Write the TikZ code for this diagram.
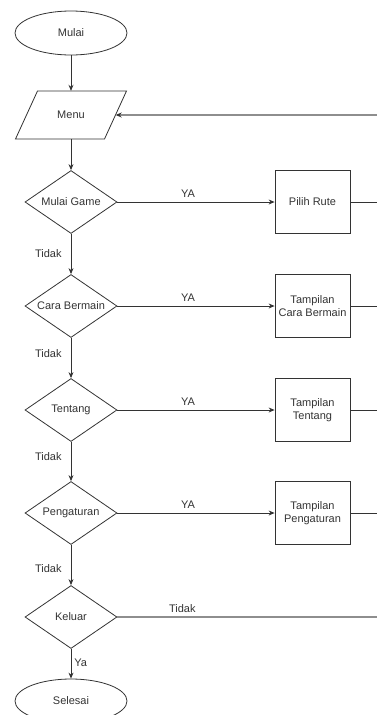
\documentclass[tikz,border=0pt]{standalone}
\usepackage{fontspec}
\setmainfont{Liberation Sans}
\usetikzlibrary{shapes.geometric,arrows.meta}
\definecolor{ink}{HTML}{333333}
\definecolor{faint}{HTML}{8E8E8E}
\begin{document}
\begin{tikzpicture}[x=1pt,y=-1pt,
  font=\fontsize{11}{12.5}\selectfont, text=ink,
  terminal/.style={ellipse, draw=ink, line width=0.8pt, minimum width=112pt, minimum height=44pt, inner sep=0pt},
  decision/.style={diamond, draw=ink, line width=0.8pt, minimum width=92pt, minimum height=63pt, aspect=1.5, inner sep=0pt},
  process/.style={rectangle, draw=ink, line width=0.8pt, minimum width=75pt, minimum height=63pt, align=center, inner sep=0pt},
  iobox/.style={rectangle, minimum width=89pt, minimum height=48pt, inner sep=0pt},
  tip/.style={-{Stealth[length=6pt,width=5pt,color=ink]}},
  flow/.style={draw=ink, line width=0.8pt, tip},
  link/.style={draw=ink, line width=0.8pt},
  back/.style={draw=faint, line width=1.6pt},
  lbl/.style={inner sep=0pt, text=ink}]

\clip (0,0) rectangle (377,715);

% main column
\node[terminal] (mulai) at (71,33) {Mulai};
\node[iobox] (menu) at (71,115) {Menu};
\draw[link] (37.5,91) -- (126.5,91) -- (104.5,139) -- (15.5,139) -- cycle;

\node[decision] (game)   at (71,202) {Mulai Game};
\node[decision] (cara)   at (71,306) {Cara Bermain};
\node[decision] (tentang) at (71,410) {Tentang};
\node[decision] (atur)   at (71,513) {Pengaturan};
\node[decision] (keluar) at (71,617) {Keluar};
\node[terminal] (selesai) at (71,701) {Selesai};

% screens
\node[process] (rute)   at (312.5,202) {Pilih Rute};
\node[process] (tcara)  at (312.5,306) {Tampilan\\Cara Bermain};
\node[process] (ttentang) at (312.5,410) {Tampilan\\Tentang};
\node[process] (tatur)  at (312.5,513) {Tampilan\\Pengaturan};

% right edge ends of the return lines
\coordinate (ret)  at (377,115);
\coordinate (o1)   at (377,202);
\coordinate (o2)   at (377,306);
\coordinate (o3)   at (377,410);
\coordinate (o4)   at (377,513);
\coordinate (o5)   at (377,617);

% vertical flow
\draw[flow] (mulai) -- (menu);
\draw[flow] (menu) -- (game);
\draw[flow] (game) -- node[lbl, left=9pt] {Tidak} (cara);
\draw[flow] (cara) -- node[lbl, left=9pt, pos=0.38] {Tidak} (tentang);
\draw[flow] (tentang) -- node[lbl, left=9pt, pos=0.38] {Tidak} (atur);
\draw[flow] (atur) -- node[lbl, left=9pt, pos=0.58] {Tidak} (keluar);
\draw[flow] (keluar) -- node[lbl, right=3pt, pos=0.45] {Ya} (selesai);

% YA branches
\draw[flow] (game) -- node[lbl, above=4pt, pos=0.45] {YA} (rute);
\draw[flow] (cara) -- node[lbl, above=4pt, pos=0.45] {YA} (tcara);
\draw[flow] (tentang) -- node[lbl, above=4pt, pos=0.45] {YA} (ttentang);
\draw[flow] (atur) -- node[lbl, above=4pt, pos=0.45] {YA} (tatur);

% lines leaving the screens
\draw[link] (rute) -- (o1);
\draw[link] (tcara) -- (o2);
\draw[link] (ttentang) -- (o3);
\draw[link] (tatur) -- (o4);

% Keluar: Tidak
\draw[back] (keluar) -- node[lbl, above=4pt, pos=0.25] {Tidak} (o5);

% return to menu
\draw[back, tip] (ret) -- (menu);
\end{tikzpicture}
\end{document}
